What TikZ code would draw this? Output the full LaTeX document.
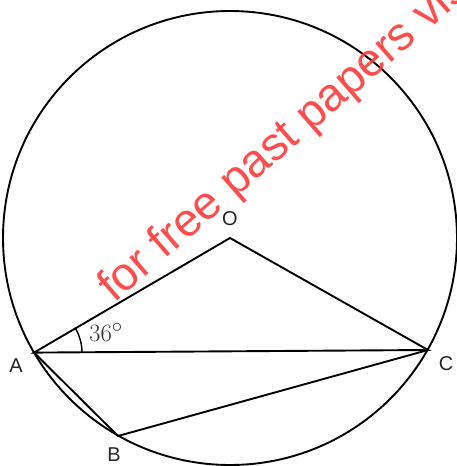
\documentclass[tikz,border=0pt]{standalone}
\usepackage{fontspec}
\usetikzlibrary{calc}
\setsansfont{Liberation Sans}
\newfontfamily\wmfont{Liberation Sans}
\definecolor{wmred}{RGB}{255,58,58}
\tikzset{
  geo/.style={line width=1.9pt, black, line join=miter},
  ptlabel/.style={font=\sffamily\fontsize{20}{23}\selectfont, text=black!85, inner sep=0pt},
}
\begin{document}
\begin{tikzpicture}[x=1pt,y=-1pt]
\useasboundingbox (0,0) rectangle (457,466);
\clip (0,0) rectangle (457,466);
\coordinate (O) at (230,238);
\coordinate (A) at (34,352.6);
\coordinate (C) at (428,350);
\coordinate (B) at (118,436);
\draw[geo] (O) circle[radius=227];
\draw[geo] (A) -- (O) -- (C) -- cycle;
\draw[geo] (A) -- (B) -- (C);
\draw[line width=1.4pt] ($(A)+(48,-0.3)$) arc[start angle=-0.4, end angle=-30.3, radius=48];
\node[inner sep=0pt, font=\fontsize{28}{32}\selectfont, text=black!80] (ang) at (106,332) {$36^{\circ}$};
\node[ptlabel] (lA) at (16,366) {A};
\node[ptlabel] (lC) at (446,364) {C};
\node[ptlabel] (lB) at (114,455) {B};
\node[ptlabel] (lO) at (230,218.5) {O};
\node[anchor=base west, rotate=41, inner sep=0pt, text=wmred, opacity=0.9,
      font=\wmfont\fontsize{46.5}{50}\selectfont] (wm) at (114,304) {for free past papers visit};
\end{tikzpicture}
\end{document}
